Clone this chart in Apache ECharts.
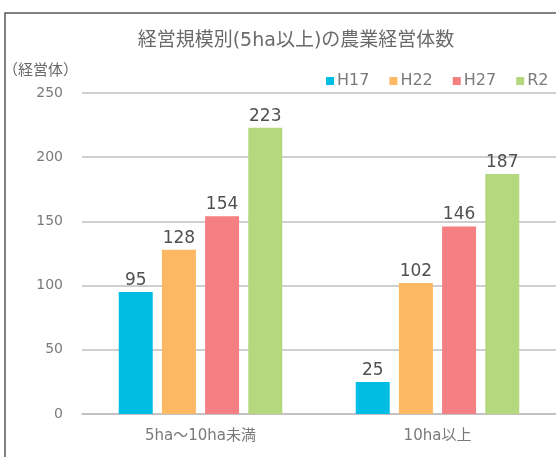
<!DOCTYPE html>
<html lang="ja">
<head>
	<meta charset="UTF-8">
	<title>経営規模別の農業経営体数</title>
	<script src="https://cdn.jsdelivr.net/npm/echarts@6/dist/echarts.min.js"></script>
	<style>
		html, body { margin: 0; padding: 0; background: #fff; }
		#main { width: 556px; height: 457px; }
	</style>
</head>
<body>
	<div id="main"></div>
	<script type="text/javascript">
		// データ
		var categories = ['5ha～10ha未満', '10ha以上'];
		var seriesNames = ['H17', 'H22', 'H27', 'R2'];
		var h17 = [95, 25];
		var h22 = [128, 102];
		var h27 = [154, 146];
		var r2 = [223, 187];
		var colors = ['#00bde4', '#fdb863', '#f58083', '#b5d77e'];

		var font = '"DejaVu Sans", "Noto Sans CJK JP", sans-serif';
		var cjk = '"Noto Sans CJK JP", sans-serif';
		var myChart = echarts.init(document.getElementById('main'));

		var values = [h17, h22, h27, r2];
		var series = seriesNames.map(function (name, i) {
			return {
				name: name,
				type: 'bar',
				data: values[i],
				barWidth: 34,
				barGap: '27%',
				itemStyle: { color: colors[i] },
				label: {
					show: true,
					position: 'top',
					distance: 3,
					color: '#505050',
					fontSize: 17,
					fontFamily: font
				}
			};
		});

		var option = {
			backgroundColor: '#fff',
			animation: false,
			color: colors,
			title: {
				text: '経営規模別(5ha以上)の農業経営体数',
				left: 291,
				top: 27,
				textAlign: 'center',
				textStyle: { color: '#6a6a6a', fontSize: 19, fontWeight: 'normal', fontFamily: font }
			},
			legend: {
				data: seriesNames,
				left: 321,
				top: 68,
				itemWidth: 8,
				itemHeight: 8,
				itemGap: 20,
				icon: 'rect',
				textStyle: { color: '#7a7a7a', fontSize: 16, fontFamily: font, padding: [0, 0, 0, -2] }
			},
			grid: { left: 82, right: -1, top: 93, bottom: 43 },
			xAxis: {
				type: 'category',
				data: categories,
				axisTick: { show: false },
				axisLine: { lineStyle: { color: '#bfbfbf', width: 1.5 } },
				axisLabel: { color: '#7a7a7a', fontSize: 15, margin: 15, fontFamily: font }
			},
			yAxis: {
				type: 'value',
				min: 0,
				max: 250,
				interval: 50,
				name: '（経営体）',
				nameLocation: 'end',
				nameGap: 16,
				nameTextStyle: { color: '#6a6a6a', fontSize: 15, fontFamily: cjk, align: 'right', padding: [0, 4, 0, 0] },
				axisLine: { show: false },
				axisTick: { show: false },
				axisLabel: { color: '#7a7a7a', fontSize: 14, margin: 19, fontFamily: font },
				splitLine: { lineStyle: { color: '#bfbfbf', width: 1.5 } }
			},
			graphic: [{
				type: 'rect',
				shape: { x: 5, y: 13, width: 620, height: 500 },
				style: { fill: 'none', stroke: '#595959', lineWidth: 1.5 },
				silent: true
			}],
			series: series
		};

		myChart.setOption(option);
	</script>
</body>
</html>
